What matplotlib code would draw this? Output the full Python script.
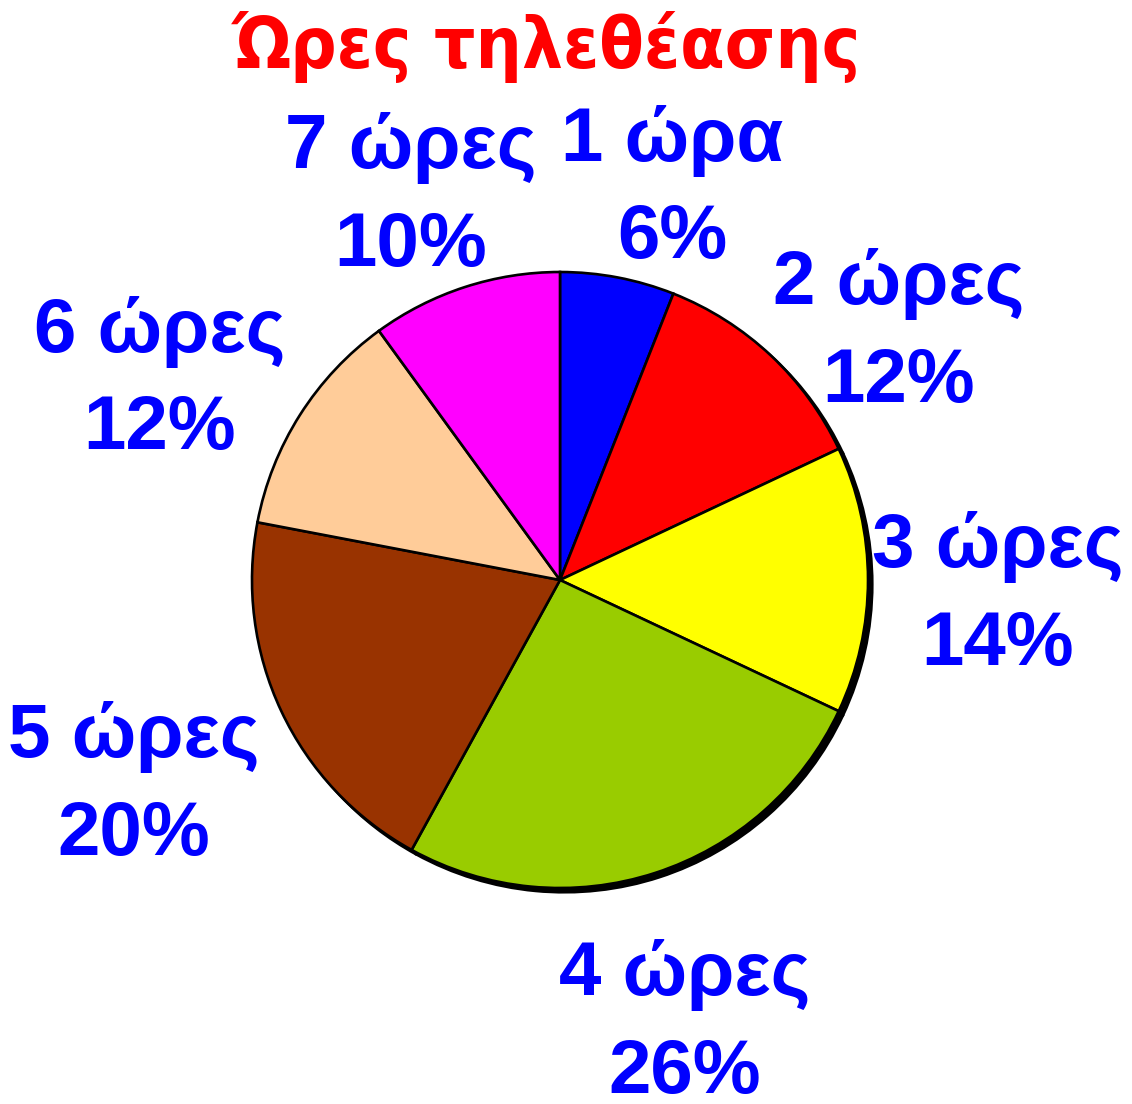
import matplotlib.pyplot as plt
import numpy as np

labels = ['1 ώρα', '2 ώρες', '3 ώρες', '4 ώρες', '5 ώρες', '6 ώρες', '7 ώρες']
shares = [6, 12, 14, 26, 20, 12, 10]
colors = ['#0000FF', '#FF0000', '#FFFF00', '#99CC00', '#993300', '#FFCC99', '#FF00FF']
title = 'Ώρες τηλεθέασης'

# label placement: distance from centre (in radii) and angle tweak (deg)
label_dist = [1.318, 1.361, 1.423, 1.498, 1.536, 1.451, 1.334]
label_shift = [-5.2, -10.7, -2.1, -2.3, 0.6, 5.9, 3.3]

W, H = 1132, 1104
R = 308.0
cx, cy = 560.0, H - 580.0

fig = plt.figure(figsize=(W / 100, H / 100), dpi=100)
ax = fig.add_axes([0, 0, 1, 1])

wedges, _ = ax.pie(shares, colors=colors, startangle=90, counterclock=False,
                   wedgeprops=dict(edgecolor='black', linewidth=1.9),
                   shadow=dict(ox=0.01, oy=-0.01, facecolor='black',
                               edgecolor='black', alpha=1))

ax.set_xlim(-cx / R, (W - cx) / R)
ax.set_ylim(-cy / R, (H - cy) / R)
ax.set_aspect('equal')
ax.axis('off')

for w, lab, val, d, s in zip(wedges, labels, shares, label_dist, label_shift):
    ang = np.deg2rad((w.theta1 + w.theta2) / 2 + s)
    ax.text(d * np.cos(ang), d * np.sin(ang), f'{lab}\n{val}%',
            ha='center', va='center', multialignment='center',
            color='#0000FF', fontsize=55, fontweight='bold',
            family='Liberation Sans', linespacing=1.48)

fig.text(547 / W, 1 - 68 / H, title, ha='center', va='baseline',
         color='#FF0000', fontsize=52, fontweight='bold',
         family='DejaVu Sans', fontstretch='condensed')

fig.savefig('out.png', dpi=100)
